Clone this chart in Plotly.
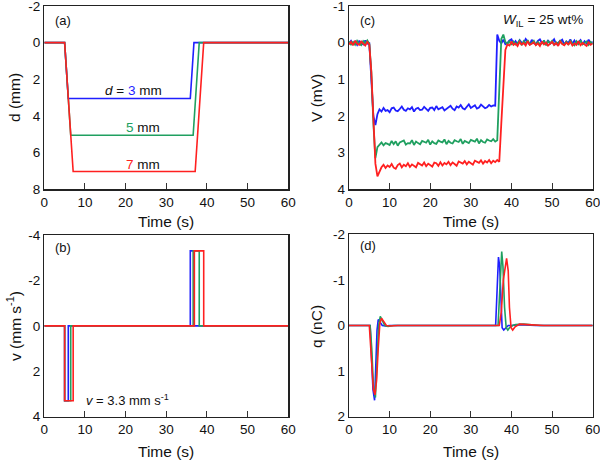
import plotly.graph_objects as go

BLUE = "#1f1fff"
GREEN = "#20a060"
RED = "#ff2020"

# ---------- (a) displacement d (mm) ----------
t_d_blue = [0, 5.0, 5.9, 35.9, 36.8, 60]
d_blue = [0, 0, 3.05, 3.05, 0, 0]
t_d_green = [0, 5.0, 6.5, 36.6, 38.1, 60]
d_green = [0, 0, 5.05, 5.05, 0, 0]
t_d_red = [0, 5.0, 7.1, 37.1, 39.2, 60]
d_red = [0, 0, 7.03, 7.03, 0, 0]

# ---------- (b) velocity v (mm/s) ----------
t_v_blue = [0, 5.0, 5.0, 5.9, 5.9, 35.9, 35.9, 36.8, 36.8, 60]
v_blue = [0, 0, 3.3, 3.3, 0, 0, -3.3, -3.3, 0, 0]
t_v_green = [0, 5.0, 5.0, 6.5, 6.5, 36.6, 36.6, 38.1, 38.1, 60]
v_green = [0, 0, 3.3, 3.3, 0, 0, -3.3, -3.3, 0, 0]
t_v_red = [0, 5.0, 5.0, 7.1, 7.1, 36.9, 36.9, 39.2, 39.2, 60]
v_red = [0, 0, 3.3, 3.3, 0, 0, -3.3, -3.3, 0, 0]

# ---------- (c) voltage V (mV), sampled every 0.5 s ----------
t_V = [i * 0.5 for i in range(121)]
V_blue = [
    0.02, -0.05, 0.04, -0.03, 0.06, -0.04, 0.01, 0.05, -0.06, 0.03,
    0.02, 0.90, 2.00, 2.25, 1.95, 1.82, 1.88, 1.78, 1.86, 1.84,
    1.90, 1.79, 1.77, 1.85, 1.87, 1.81, 1.74, 1.83, 1.86, 1.79,
    1.82, 1.76, 1.88, 1.80, 1.78, 1.84, 1.83, 1.75, 1.81, 1.86,
    1.78, 1.77, 1.84, 1.73, 1.82, 1.79, 1.76, 1.85, 1.81, 1.75,
    1.72, 1.80, 1.84, 1.74, 1.77, 1.70, 1.79, 1.82, 1.76, 1.68,
    1.78, 1.74, 1.71, 1.80, 1.77, 1.69, 1.74, 1.79, 1.76, 1.70,
    1.74, 1.71, 1.72, -0.22, -0.05, 0.02, -0.08, 0.04, 0.01, -0.06,
    -0.09, 0.03, -0.04, 0.05, -0.07, 0.00, 0.02, -0.10, -0.03, 0.06,
    -0.08, 0.02, 0.04, -0.05, -0.09, 0.01, -0.04, 0.06, -0.07, 0.03,
    -0.02, -0.09, 0.04, 0.00, -0.05, -0.08, 0.05, -0.03, 0.01, -0.09,
    0.03, -0.06, 0.04, -0.02, -0.07, 0.05, -0.04, 0.02, -0.08, 0.03,
    -0.03,
]
V_green = [
    -0.03, 0.05, -0.02, 0.06, -0.05, 0.03, 0.07, -0.04, 0.02, -0.06,
    0.03, 0.80, 2.20, 3.15, 2.85, 2.78, 2.72, 2.80, 2.74, 2.76,
    2.79, 2.68, 2.77, 2.69, 2.81, 2.72, 2.70, 2.67, 2.78, 2.74,
    2.75, 2.66, 2.79, 2.70, 2.74, 2.77, 2.68, 2.71, 2.73, 2.65,
    2.78, 2.69, 2.74, 2.76, 2.67, 2.70, 2.72, 2.64, 2.77, 2.68,
    2.73, 2.75, 2.66, 2.69, 2.71, 2.63, 2.76, 2.68, 2.72, 2.74,
    2.65, 2.67, 2.70, 2.62, 2.75, 2.66, 2.71, 2.73, 2.64, 2.67,
    2.69, 2.63, 2.70, 2.66, 1.00, -0.10, -0.22, -0.02, 0.04, -0.05,
    0.06, -0.03, 0.05, 0.01, -0.06, 0.07, -0.04, 0.03, -0.07, 0.05,
    0.01, -0.05, 0.06, -0.02, 0.04, 0.02, -0.06, 0.07, -0.04, 0.02,
    -0.05, 0.06, -0.01, 0.04, -0.07, 0.03, 0.05, -0.03, 0.06, -0.05,
    0.02, 0.07, -0.04, 0.04, -0.06, 0.05, 0.01, -0.03, 0.06, -0.02,
    0.04,
]
V_red = [
    0.05, -0.02, 0.07, -0.05, 0.03, 0.06, -0.03, 0.04, 0.08, -0.02,
    0.05, 0.80, 2.20, 3.30, 3.65, 3.50, 3.40, 3.33, 3.42, 3.35,
    3.39, 3.31, 3.41, 3.44, 3.34, 3.30, 3.40, 3.33, 3.37, 3.29,
    3.39, 3.32, 3.36, 3.40, 3.28, 3.31, 3.35, 3.27, 3.37, 3.30,
    3.34, 3.38, 3.27, 3.29, 3.36, 3.26, 3.35, 3.28, 3.32, 3.25,
    3.34, 3.27, 3.31, 3.36, 3.24, 3.26, 3.30, 3.23, 3.32, 3.25,
    3.29, 3.33, 3.22, 3.24, 3.28, 3.21, 3.30, 3.23, 3.27, 3.20,
    3.29, 3.22, 3.26, 3.20, 3.25, 2.20, 1.20, 0.20, 0.05, 0.08,
    -0.03, 0.06, 0.02, 0.09, -0.02, 0.05, 0.01, 0.08, -0.04, 0.06,
    0.03, -0.01, 0.07, 0.02, 0.09, -0.03, 0.05, 0.00, 0.08, 0.03,
    -0.02, 0.06, 0.01, 0.09, -0.03, 0.04, 0.07, 0.00, 0.05, -0.02,
    0.08, 0.02, 0.06, -0.04, 0.07, 0.01, 0.05, 0.09, -0.01, 0.06,
    0.02,
]

# ---------- (d) charge q (nC) ----------
t_q_blue = [0, 5.2, 5.5, 5.9, 6.3, 6.6, 6.9, 7.2, 7.6, 8.2, 9.0, 10.0,
            36.1, 36.4, 36.8, 37.1, 37.4, 37.7, 38.1, 38.6, 39.2, 40.0, 42.0, 46.0, 60]
q_blue = [0, 0, 0.6, 1.4, 1.64, 1.0, 0.1, -0.13, -0.08, 0.0, 0.01, 0,
          0, -0.6, -1.5, -1.3, -0.5, 0.05, 0.1, 0.05, 0, 0, -0.02, 0, 0]
t_q_green = [0, 5.2, 5.6, 6.0, 6.5, 6.9, 7.3, 7.7, 8.2, 8.8, 9.6, 11.0,
             36.7, 37.0, 37.6, 37.9, 38.3, 38.7, 39.1, 39.6, 40.3, 41.0, 43.0, 47.0, 60]
q_green = [0, 0, 0.5, 1.3, 1.58, 0.9, 0.0, -0.2, -0.12, 0.0, 0.02, 0,
           0, -0.6, -1.62, -1.3, -0.4, 0.05, 0.1, 0.04, 0, -0.02, -0.03, 0, 0]
t_q_red = [0, 5.0, 5.5, 6.0, 6.4, 6.8, 7.2, 7.6, 8.0, 8.5, 9.2, 10.0, 12.0,
           37.0, 37.5, 38.0, 38.8, 39.2, 39.5, 39.9, 40.3, 40.9, 42.0, 44.0, 48.0, 60]
q_red = [0, 0, 0.7, 1.4, 1.52, 1.2, 0.5, -0.05, -0.16, -0.08, 0.0, 0.01, 0,
         0, -0.3, -1.0, -1.47, -1.2, -0.4, 0.05, 0.1, 0.03, -0.03, -0.02, 0, 0]

x_ticks = [0, 10, 20, 30, 40, 50, 60]
y_ticks_a = [-2, 0, 2, 4, 6, 8]
y_ticks_c = [-1, 0, 1, 2, 3, 4]
y_ticks_b = [-4, -2, 0, 2, 4]
y_ticks_d = [-2, -1, 0, 1, 2]

FONT = "Liberation Sans, Arial, sans-serif"
fig = go.Figure()

panels = [
    ("x", "y", [(t_d_blue, d_blue, BLUE), (t_d_green, d_green, GREEN), (t_d_red, d_red, RED)], 1.6),
    ("x2", "y2", [(t_V, V_blue, BLUE), (t_V, V_green, GREEN), (t_V, V_red, RED)], 1.8),
    ("x3", "y3", [(t_v_blue, v_blue, BLUE), (t_v_green, v_green, GREEN), (t_v_red, v_red, RED)], 1.6),
    ("x4", "y4", [(t_q_blue, q_blue, BLUE), (t_q_green, q_green, GREEN), (t_q_red, q_red, RED)], 1.6),
]
for xa, ya, series, lw in panels:
    for xs, ys, col in series:
        fig.add_trace(go.Scatter(x=xs, y=ys, mode="lines", xaxis=xa, yaxis=ya,
                                 line=dict(color=col, width=lw), showlegend=False,
                                 hoverinfo="skip"))

W, H = 600, 461
xl = [44.3 / W, 288.3 / W]
xr = [349.0 / W, 592.7 / W]
ya_dom = [1 - 189.3 / H, 1 - 6.0 / H]
yc_dom = [1 - 189.3 / H, 1 - 6.0 / H]
yb_dom = [1 - 416.7 / H, 1 - 235.0 / H]
yd_dom = [1 - 416.7 / H, 1 - 234.3 / H]

def lbl(v):
    return str(v)

def xaxis(dom, anchor):
    return dict(domain=dom, anchor=anchor, range=[0, 60], tickvals=x_ticks,
                ticktext=[lbl(v) for v in x_ticks],
                ticks="inside", ticklen=6, tickwidth=1, tickcolor="#333",
                showline=True, linecolor="#222", linewidth=1.3, mirror=True,
                showgrid=False, zeroline=False, automargin=False,
                ticklabeloverflow="allow",
                tickfont=dict(family=FONT, size=13.5, color="#111"))

def yaxis(dom, anchor, rng, tv):
    return dict(domain=dom, anchor=anchor, range=rng, tickvals=tv,
                ticktext=[lbl(v) for v in tv],
                ticks="", showline=True, linecolor="#222", linewidth=1.3,
                mirror=True, showgrid=False, zeroline=False, automargin=False,
                ticklabeloverflow="allow",
                tickfont=dict(family=FONT, size=13.5, color="#111"))

fig.update_layout(
    width=W, height=H, margin=dict(l=0, r=0, t=0, b=0),
    paper_bgcolor="white", plot_bgcolor="white",
    font=dict(family=FONT, color="#111"),
    xaxis=xaxis(xl, "y"), yaxis=yaxis(ya_dom, "x", [8, -2], y_ticks_a),
    xaxis2=xaxis(xr, "y2"), yaxis2=yaxis(yc_dom, "x2", [4, -1], y_ticks_c),
    xaxis3=xaxis(xl, "y3"), yaxis3=yaxis(yb_dom, "x3", [4, -4], y_ticks_b),
    xaxis4=xaxis(xr, "y4"), yaxis4=yaxis(yd_dom, "x4", [2, -2], y_ticks_d),
)

def ann(text, x, y, size=14, angle=0, xanchor="center", yanchor="middle"):
    fig.add_annotation(text=text, x=x / W, y=1 - y / H, xref="paper", yref="paper",
                       showarrow=False, textangle=angle, xanchor=xanchor,
                       yanchor=yanchor, font=dict(family=FONT, size=size, color="#111"))

# axis titles
ann("Time (s)", 166.3, 221.5, 15.5)
ann("Time (s)", 470.8, 221.5, 15.5)
ann("Time (s)", 166.3, 451.5, 15.5)
ann("Time (s)", 470.8, 451.5, 15.5)
ann("d (mm)", 14, 98, 15.5, -90)
ann("V (mV)", 316, 98, 15.5, -90)
ann("v (mm s<sup>-1</sup>)", 14, 326, 15.5, -90)
ann("q (nC)", 316, 326, 15.5, -90)

# panel labels
ann("(a)", 53, 20, 13, xanchor="left")
ann("(c)", 358, 20, 13, xanchor="left")
ann("(b)", 53, 247, 13, xanchor="left")
ann("(d)", 358, 246, 13, xanchor="left")

# in-plot texts
ann("<i>d</i> = <span style='color:%s'>3</span> mm" % BLUE, 133, 90.5, 13.5)
ann("<span style='color:%s'>5</span> mm" % GREEN, 143, 127.5, 13.5)
ann("<span style='color:%s'>7</span> mm" % RED, 143, 164, 13.5)
ann("<i>W</i><sub>IL</sub> = 25 wt%", 585, 20, 13.5, xanchor="right")
ann("<i>v</i> = 3.3 mm s<sup>-1</sup>", 84, 400, 13, xanchor="left")

fig.write_html("out.html", config={"displayModeBar": False, "staticPlot": True},
               post_script="document.body.style.margin='0px';document.body.style.overflow='hidden';")
